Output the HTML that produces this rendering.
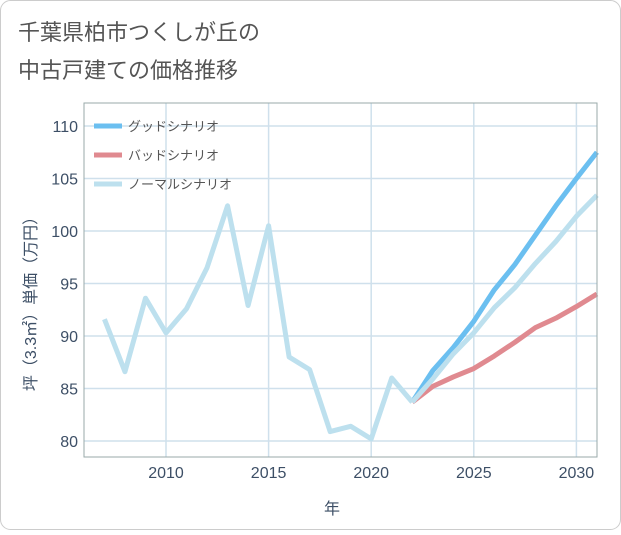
<!DOCTYPE html>
<html><head><meta charset="utf-8"><style>
body{margin:0;background:#fff;}
#wrap{width:621px;height:530px;position:relative;font-family:"Liberation Sans","Noto Sans CJK JP",sans-serif;}
</style></head><body>
<div id="wrap">
<svg id="svg" width="621" height="530" xmlns="http://www.w3.org/2000/svg">
<rect x="0.5" y="0.5" width="620" height="529" rx="10" fill="#fff" stroke="#ccc"/>
<text x="18" y="40" font-size="22" fill="#555" font-family="Liberation Sans,Noto Sans CJK JP,sans-serif">千葉県柏市つくしが丘の</text>
<text x="18" y="78" font-size="22" fill="#555" font-family="Liberation Sans,Noto Sans CJK JP,sans-serif">中古戸建ての価格推移</text>
<g id="grid"></g><g id="lines"></g>
<rect x="84" y="103" width="513" height="354" fill="none" stroke="#9aa"/>
<g id="ticks"></g>
<text x="332" y="514" font-size="16" fill="#3d4f66" text-anchor="middle" font-family="Liberation Sans,Noto Sans CJK JP,sans-serif">年</text>
<text transform="translate(36,300) rotate(-90)" font-size="16" fill="#3d4f66" text-anchor="middle" font-family="Liberation Sans,Noto Sans CJK JP,sans-serif">坪（3.3㎡）単価（万円）</text>
<g id="legend"></g>
</svg></div>
<script>
const years=[2007,2008,2009,2010,2011,2012,2013,2014,2015,2016,2017,2018,2019,2020,2021,2022];
const history=[91.6,86.6,93.6,90.3,92.6,96.5,102.4,92.9,100.5,88,86.8,80.9,81.4,80.2,86,83.7];
const fyears=[2022,2023,2024,2025,2026,2027,2028,2029,2030,2031];
const good=[83.7,86.7,88.9,91.4,94.4,96.8,99.6,102.4,105,107.5];
const bad=[83.7,85.2,86.1,86.9,88.1,89.4,90.8,91.7,92.8,94];
const normal=[83.7,85.9,88.3,90.3,92.7,94.6,96.9,99,101.4,103.4];
const xTicks=[2010,2015,2020,2025,2030];
const yTicks=[80,85,90,95,100,105,110];
const NS="http://www.w3.org/2000/svg";
const X=v=>166+(v-2010)*20.52, Y=v=>441-(v-80)*10.5;
function mk(t,a,p){const e=document.createElementNS(NS,t);for(const k in a)e.setAttribute(k,a[k]);p.appendChild(e);return e;}
const grid=document.getElementById('grid'),ticks=document.getElementById('ticks'),lines=document.getElementById('lines'),leg=document.getElementById('legend');
xTicks.forEach(t=>{const l=mk('line',{x1:X(t),x2:X(t),y1:103,y2:457,stroke:'#cfe0ec','stroke-width':1.5},grid);

});
yTicks.forEach(v=>{const l=mk('line',{x1:84,x2:597,y1:Y(v),y2:Y(v),stroke:'#cfe0ec','stroke-width':1.5},grid);

});
xTicks.forEach(t=>{const e=mk('text',{x:X(t),y:478,'font-size':16,fill:'#3d4f66','text-anchor':'middle'},ticks);e.textContent=t;

});
yTicks.forEach(t=>{const e=mk('text',{x:78,y:Y(t)+6,'font-size':16,fill:'#3d4f66','text-anchor':'end'},ticks);e.textContent=t;

});
function line(xs,vs,c,name){const p=mk('polyline',{points:xs.map((x,i)=>X(x)+','+Y(vs[i])).join(' '),fill:'none',stroke:c,'stroke-width':5,'stroke-linejoin':'round'},lines);

}
line(fyears,good,'#6bbff0','good-scenario-line');
line(fyears,bad,'#e08a90','bad-scenario-line');
line(fyears,normal,'#bde0ee','normal-scenario-line');
line(years,history,'#bde0ee','history-line');
[['グッドシナリオ','#6bbff0'],['バッドシナリオ','#e08a90'],['ノーマルシナリオ','#bde0ee']].forEach((d,i)=>{
const y=126+i*29;const g=mk('g',{},leg);


mk('line',{x1:94,x2:122,y1:y,y2:y,stroke:d[1],'stroke-width':5},g);
const t=mk('text',{x:128,y:y+5,'font-size':13,fill:'#555'},g);t.textContent=d[0];});
</script></body></html>
